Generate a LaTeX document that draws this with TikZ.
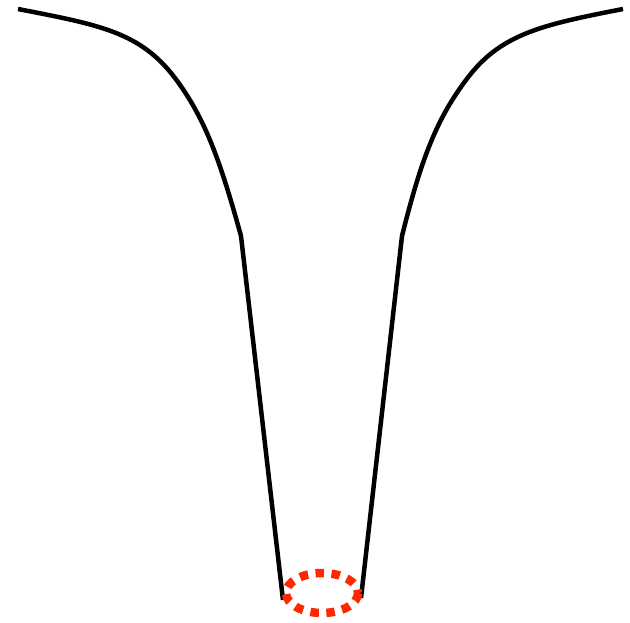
\documentclass[tikz,border=0pt]{standalone}
\begin{document}
\begin{tikzpicture}[x=1pt,y=-1pt,
  wall/.style={line width=4.5pt,black,line join=round},
  ring/.style={line width=8.5pt,color={rgb,255:red,255;green,40;blue,0},dash pattern=on 8.5pt off 7.5pt}]
\useasboundingbox (0,0) rectangle (630,623);
\coordinate (lt) at (18,9);
\coordinate (lk) at (241,236);
\coordinate (lb) at (283,600);
\coordinate (rt) at (623,9);
\coordinate (rk) at (402,236);
\coordinate (rb) at (361,598);
\draw[wall] (lt) .. controls (100,25) and (140,32) .. (175,78) .. controls (205,118) and (220,160) .. (lk) -- (lb);
\draw[wall] (rt) .. controls (541,25) and (500,34) .. (466,80) .. controls (436,120) and (421,160) .. (rk) -- (rb);
\node[draw=none,inner sep=0pt] (hole) at (322,593) {};
\draw[ring] (hole) ellipse [x radius=36, y radius=20];
\end{tikzpicture}
\end{document}
